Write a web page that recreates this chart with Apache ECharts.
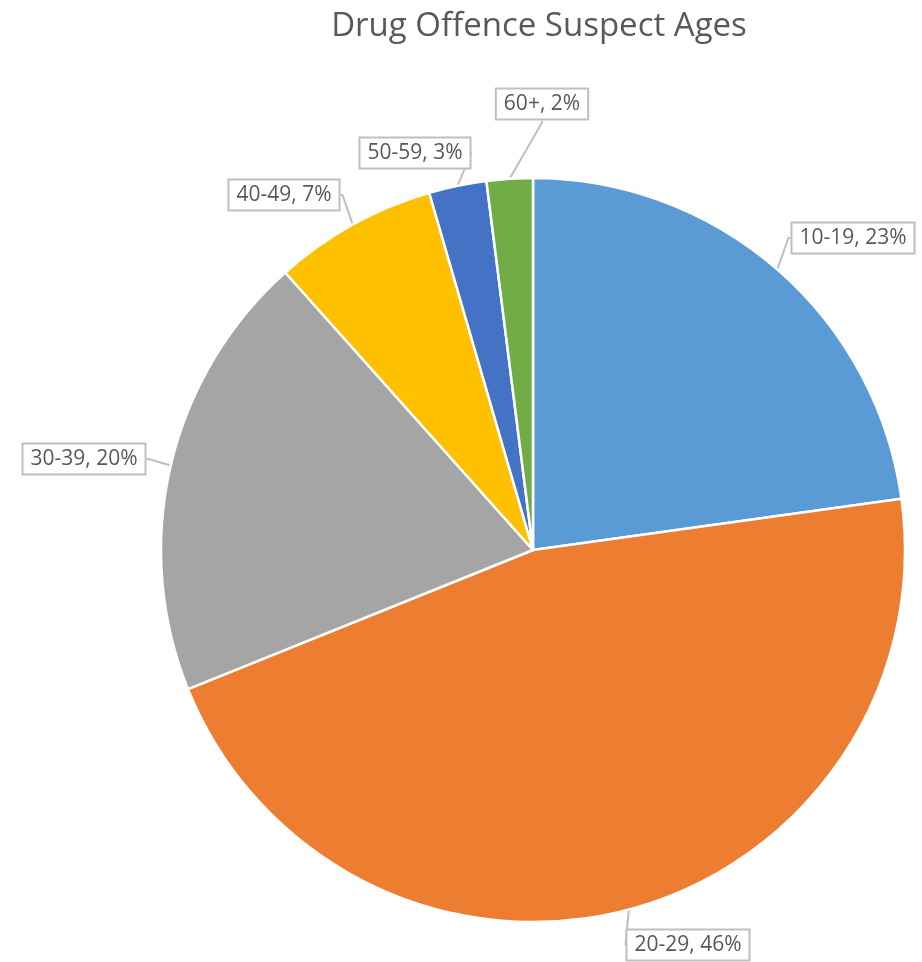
<!DOCTYPE html>
<html>
<head>
<meta charset="utf-8">
<script src="https://cdn.jsdelivr.net/npm/echarts@6/dist/echarts.min.js"></script>
<style>html,body{margin:0;padding:0;background:#fff;}#c{width:922px;height:962px;}</style>
</head>
<body>
<div id="c"></div>
<script>
const categories = ['10-19', '20-29', '30-39', '40-49', '50-59', '60+'];
const values = [22.8, 46.1, 19.5, 7.1, 2.5, 2.0];
const colors = ['#5B9BD5', '#ED7D31', '#A5A5A5', '#FFC000', '#4472C4', '#70AD47'];
const titleText = 'Drug Offence Suspect Ages';

const labelPos = [[853, 238], [688, 945], [84, 459], [284, 195], [415, 153], [542, 104]];

const chart = echarts.init(document.getElementById('c'));
chart.setOption({
  animation: false,
  backgroundColor: '#fff',
  title: {
    text: titleText, left: 534, textAlign: 'center', top: 5,
    textStyle: { fontFamily: 'Open Sans', fontWeight: 'normal', fontSize: 33, color: '#595959' }
  },
  series: [{
    type: 'pie',
    center: [533, 550],
    radius: 372,
    startAngle: 90,
    clockwise: true,
    data: categories.map((c, i) => ({ name: c, value: values[i], itemStyle: { color: colors[i] } })),
    itemStyle: { borderColor: '#fff', borderWidth: 2.5 },
    label: {
      show: true,
      overflow: 'none',
      formatter: p => p.name + ', ' + Math.round(p.percent) + '%',
      fontFamily: 'Open Sans', fontSize: 21, color: '#595959',
      backgroundColor: '#fff', borderColor: '#BFBFBF', borderWidth: 2,
      padding: [5, 7, 3, 7]
    },
    labelLine: { show: true, lineStyle: { color: '#BFBFBF', width: 2 }, length: 2, length2: 2 },
    labelLayout: function (p) {
      const pos = labelPos[p.dataIndex];
      return { x: pos[0], y: pos[1], align: 'center', verticalAlign: 'middle' };
    }
  }]
});
</script>
</body>
</html>
